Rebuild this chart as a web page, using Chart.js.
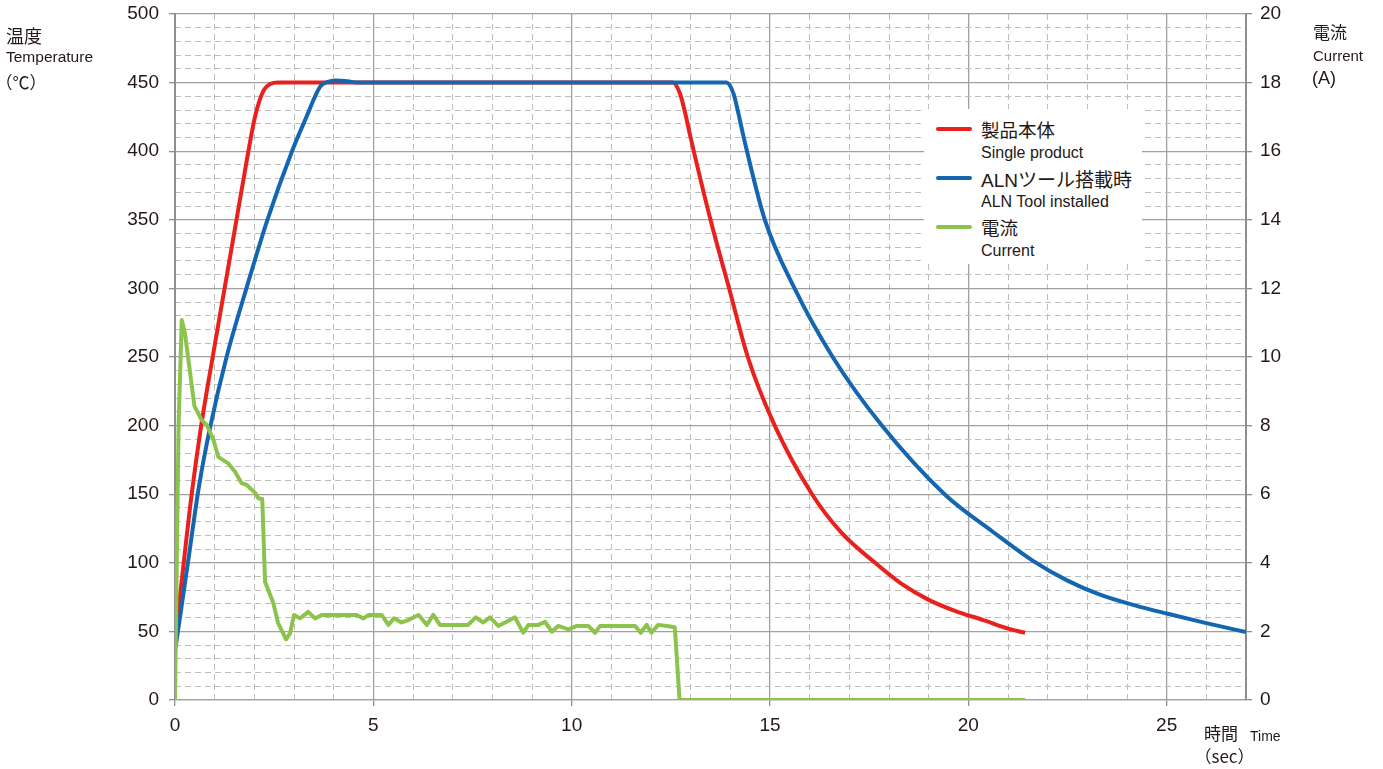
<!DOCTYPE html>
<html><head><meta charset="utf-8">
<script src="https://cdn.jsdelivr.net/npm/chart.js@4.4.0/dist/chart.umd.min.js"></script>
<style>
html,body{margin:0;padding:0;background:#fff;}
#wrap{position:relative;width:1383px;height:769px;overflow:hidden;background:#fff;}
canvas{position:absolute;left:0;top:0;}
.t{position:absolute;white-space:nowrap;line-height:1;color:#231815;font-family:"Liberation Sans","Noto Sans CJK JP",sans-serif;}
.jp{font-family:"Noto Sans CJK JP",sans-serif;font-feature-settings:"halt";}
#legend{position:absolute;left:924px;top:109px;width:218px;height:155px;background:#fff;}
.sw{position:absolute;left:12px;width:36px;height:4px;border-radius:2px;}
</style></head>
<body>
<div id="wrap">
<canvas id="c" width="1383" height="769"></canvas>
<div class="t jp" style="left:6px;top:26px;font-size:18px;">温度</div>
<div class="t" style="left:6px;top:49px;font-size:15.5px;">Temperature</div>
<div class="t jp" style="left:4px;top:73px;font-size:17px;">（℃）</div>
<div class="t jp" style="left:1313px;top:23px;font-size:17px;">電流</div>
<div class="t" style="left:1313px;top:47.5px;font-size:15px;">Current</div>
<div class="t" style="left:1312px;top:68.5px;font-size:18px;">(A)</div>
<div class="t jp" style="left:1204px;top:724px;font-size:17px;">時間</div>
<div class="t" style="left:1250px;top:729px;font-size:14px;">Time</div>
<div class="t jp" style="left:1203px;top:747px;font-size:17px;">（sec）</div>
<div id="legend"></div>
</div>
<script>
// ---- data ----
const seriesNames = ['製品本体', 'ALNツール搭載時', '電流'];
const seriesNamesEn = ['Single product', 'ALN Tool installed', 'Current'];

const timeProduct = [0, 0.2, 0.42, 0.65, 0.95, 1.25, 1.55, 1.85, 2.0, 2.12, 2.25, 2.4, 2.6, 12.55, 12.73, 12.86, 12.99, 13.5, 13.97, 14.44, 15.12, 16.06, 16.8, 17.65, 18.3, 19.0, 19.66, 20.4, 21.0, 21.43];
const tempProduct = [42, 95, 150, 198, 250, 300, 350, 400, 423, 436, 445, 449, 450, 450, 442, 428, 411, 350, 300, 250, 200, 150, 122, 100, 85, 73, 65, 58, 52, 49];

const timeTool = [0, 0.15, 0.35, 0.6, 0.88, 1.3, 1.8, 2.33, 2.95, 3.3, 3.66, 3.85, 4.05, 4.35, 4.6, 13.9, 14.08, 14.2, 14.33, 14.87, 15.62, 16.58, 17.82, 19.4, 20.6, 21.6, 22.5, 23.3, 24.2, 25.0, 26.0, 27.0];
const tempTool = [36, 65, 105, 155, 198, 250, 300, 350, 400, 424, 447, 450.5, 451.5, 451, 450, 450, 442, 428, 411, 350, 300, 250, 200, 150, 123, 102, 87, 77, 69, 63, 56, 49.5];

const timeCurrent = [0, 0.09, 0.17, 0.25, 0.49, 0.67, 0.8, 0.97, 1.09, 1.34, 1.51, 1.68, 1.81, 2.02, 2.1, 2.2, 2.27, 2.48, 2.6, 2.8, 2.9, 3.0, 3.15, 3.36, 3.53, 3.7, 4.58, 4.75, 4.88, 5.21, 5.38, 5.52, 5.71, 5.88, 6.14, 6.35, 6.51, 6.68, 7.39, 7.58, 7.77, 7.94, 8.15, 8.36, 8.57, 8.78, 8.91, 9.16, 9.33, 9.5, 9.66, 9.92, 10.13, 10.42, 10.59, 10.72, 11.6, 11.74, 11.89, 12.01, 12.18, 12.4, 12.6, 12.72, 21.43];
const ampCurrent = [0, 8, 11.08, 10.7, 8.57, 8.16, 8.02, 7.58, 7.09, 6.9, 6.66, 6.32, 6.27, 6.04, 5.88, 5.86, 3.45, 2.82, 2.24, 1.77, 1.94, 2.48, 2.38, 2.57, 2.38, 2.48, 2.48, 2.38, 2.48, 2.48, 2.19, 2.38, 2.26, 2.33, 2.48, 2.19, 2.48, 2.19, 2.19, 2.41, 2.26, 2.41, 2.16, 2.28, 2.41, 1.96, 2.19, 2.19, 2.28, 1.99, 2.16, 2.06, 2.16, 2.16, 1.96, 2.16, 2.16, 1.96, 2.19, 1.96, 2.19, 2.16, 2.12, 0, 0];

// ---- tick labels ----
const xTicks = [0, 5, 10, 15, 20, 25];
const yTicks = [0, 50, 100, 150, 200, 250, 300, 350, 400, 450, 500];
const y2Ticks = [0, 2, 4, 6, 8, 10, 12, 14, 16, 18, 20];
const xMinorTicks = [];
for (let v = 1; v < 27; v++) if (v % 5 !== 0) xMinorTicks.push(v);
const yMinorTicks = [];
for (let v = 10; v < 500; v += 10) if (v % 50 !== 0) yMinorTicks.push(v);

const colors = ['#e8211d', '#1466b0', '#8cc34c'];
const TXT = '#231815';
const MAJ = '#a0a0a0';
const MIN = '#bdbdbd';
const AXC = '#8e8e8e';
const FONT = '"Liberation Sans", Arial, sans-serif';

// legend
const lg = document.getElementById('legend');
const rowTops = [0, 49, 98];
const mainSizes = [18.5, 19, 18.5];
seriesNames.forEach((n, i) => {
  const t0 = rowTops[i];
  const sw = document.createElement('div');
  sw.className = 'sw'; sw.style.top = (18.3 + t0) + 'px'; sw.style.background = colors[i];
  lg.appendChild(sw);
  const a = document.createElement('div');
  a.className = 't'; a.textContent = n;
  a.style.left = '57px'; a.style.fontSize = mainSizes[i] + 'px';
  a.style.top = (22 - mainSizes[i] / 2 + t0) + 'px';
  lg.appendChild(a);
  const b = document.createElement('div');
  b.className = 't'; b.textContent = seriesNamesEn[i];
  b.style.left = '57px'; b.style.fontSize = '16px';
  b.style.top = (43.5 - 8 + t0) + 'px';
  lg.appendChild(b);
});

const pts = (xs, ys) => xs.map((x, i) => ({x: x, y: ys[i]}));
const setTicks = arr => s => { s.ticks = arr.map(v => ({value: v})); };
const fitV = w => s => { s.width = w; s.paddingTop = 0; s.paddingBottom = 0; };

new Chart(document.getElementById('c'), {
  type: 'line',
  data: {
    datasets: [
      {label: seriesNames[0], data: pts(timeProduct, tempProduct), borderColor: colors[0], borderWidth: 4,
       pointRadius: 0, xAxisID: 'x', yAxisID: 'y', cubicInterpolationMode: 'monotone', order: 2, fill: false},
      {label: seriesNames[1], data: pts(timeTool, tempTool), borderColor: colors[1], borderWidth: 4,
       pointRadius: 0, xAxisID: 'x', yAxisID: 'y', cubicInterpolationMode: 'monotone', order: 1, fill: false},
      {label: seriesNames[2], data: pts(timeCurrent, ampCurrent), borderColor: colors[2], borderWidth: 4,
       pointRadius: 0, xAxisID: 'x', yAxisID: 'y2', tension: 0, borderJoinStyle: 'round', order: 0, fill: false}
    ]
  },
  options: {
    responsive: false,
    animation: false,
    events: [],
    layout: {padding: {top: 14, left: 0, right: 0, bottom: 0}},
    plugins: {legend: {display: false}, tooltip: {enabled: false}},
    scales: {
      x: {
        type: 'linear', position: 'bottom', min: 0, max: 27, bounds: 'data',
        afterBuildTicks: setTicks(xTicks),
        afterFit: s => { s.height = 69; s.paddingLeft = 0; s.paddingRight = 0; },
        ticks: {font: {size: 19, family: FONT}, color: TXT, padding: 8, maxRotation: 0, autoSkip: false},
        grid: {color: MAJ, lineWidth: 1.3, tickLength: 6, tickColor: AXC},
        border: {display: true, color: MAJ, width: 1.3}
      },
      xMinor: {
        type: 'linear', position: 'bottom', min: 0, max: 27, bounds: 'data',
        afterBuildTicks: setTicks(xMinorTicks),
        ticks: {display: false},
        grid: {color: MIN, lineWidth: 1, drawTicks: false},
        border: {display: false, dash: [6, 4]}
      },
      y: {
        type: 'linear', position: 'left', min: 0, max: 500, bounds: 'data',
        afterBuildTicks: setTicks(yTicks),
        afterFit: fitV(175),
        ticks: {font: {size: 19, family: FONT}, color: TXT, padding: 10, autoSkip: false},
        grid: {color: MAJ, lineWidth: 1.3, tickLength: 6, tickColor: AXC},
        border: {display: true, color: AXC, width: 2}
      },
      yMinor: {
        type: 'linear', position: 'left', min: 0, max: 500, bounds: 'data',
        afterBuildTicks: setTicks(yMinorTicks),
        ticks: {display: false},
        grid: {color: MIN, lineWidth: 1, drawTicks: false},
        border: {display: false, dash: [6, 4]}
      },
      y2: {
        type: 'linear', position: 'right', min: 0, max: 20, bounds: 'data',
        afterBuildTicks: setTicks(y2Ticks),
        afterFit: fitV(137),
        ticks: {font: {size: 19, family: FONT}, color: TXT, padding: 8, autoSkip: false},
        grid: {drawOnChartArea: false, color: AXC, lineWidth: 1.3, tickLength: 6},
        border: {display: true, color: AXC, width: 2}
      }
    }
  }
});
</script>
</body></html>
